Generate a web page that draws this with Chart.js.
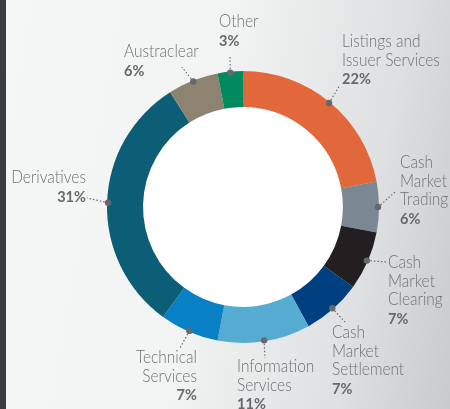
<!DOCTYPE html>
<html>
<head>
<meta charset="utf-8">
<script src="https://cdn.jsdelivr.net/npm/chart.js@4.4.0/dist/chart.umd.min.js"></script>
<style>
  html, body { margin: 0; padding: 0; }
  #wrap {
    position: relative;
    width: 450px;
    height: 409px;
    overflow: hidden;
    background: linear-gradient(100deg, #f5f6f6 0%, #f2f3f3 45%, #dfe0e1 78%, #c8cacc 100%);
  }
  #wrap:before {
    content: '';
    position: absolute;
    left: 0; top: 0; bottom: 0;
    width: 6px;
    background: #3c3d41;
  }
  #chart { position: absolute; left: 0; top: 0; }
</style>
</head>
<body>
<div id="wrap">
  <canvas id="chart" width="450" height="409"></canvas>
</div>
<script>
// data (clockwise from 12 o'clock)
var categories = ['Listings and Issuer Services', 'Cash Market Trading', 'Cash Market Clearing',
  'Cash Market Settlement', 'Information Services', 'Technical Services', 'Derivatives',
  'Austraclear', 'Other'];
var shares = [22, 6, 7, 7, 11, 7, 31, 6, 3];
var colores = ['#e2673a', '#7b8793', '#231f20', '#003f80', '#55abd2', '#0780c6', '#0b5e75', '#8e8371', '#008a5e'];

// label layout: lines, text anchor, alignment, end of the dotted leader
var labelLines = [
  ['Listings and', 'Issuer Services'],
  ['Cash', 'Market', 'Trading'],
  ['Cash', 'Market', 'Clearing'],
  ['Cash', 'Market', 'Settlement'],
  ['Information', 'Services'],
  ['Technical', 'Services'],
  ['Derivatives'],
  ['Austraclear'],
  ['Other']
];
var labelPos = [
  { x: 342, y: 47, align: 'left', ex: 340, ey: 85 },
  { x: 400, y: 168, align: 'left', ex: 395, ey: 192 },
  { x: 388, y: 268, align: 'left', ex: 387, ey: 262 },
  { x: 332, y: 338, align: 'left', ex: 345, ey: 322 },
  { x: 237, y: 372, align: 'left', ex: 265, ey: 358 },
  { x: 197, y: 363, align: 'right', ex: 180, ey: 348 },
  { x: 86, y: 183, align: 'right', ex: 87, ey: 198 },
  { x: 124, y: 57, align: 'left', ex: 182, ey: 67 },
  { x: 219, y: 27, align: 'left', ex: 230, ey: 56 }
];
var lineH = 18.5;
var squeeze = 0.91;
var gris = '#707174';

const whiteHole = {
  id: 'whiteHole',
  beforeDatasetsDraw(chart) {
    var arc = chart.getDatasetMeta(0).data[0];
    var ctx = chart.ctx;
    ctx.save();
    ctx.fillStyle = '#ffffff';
    ctx.beginPath();
    ctx.arc(arc.x, arc.y, arc.innerRadius, 0, Math.PI * 2);
    ctx.fill();
    ctx.restore();
  }
};

function narrowText(ctx, t, x, y) {
  ctx.save();
  ctx.translate(x, y);
  ctx.scale(squeeze, 1);
  ctx.fillText(t, 0, 0);
  ctx.restore();
}

const leaders = {
  id: 'leaders',
  afterDatasetsDraw(chart) {
    var ctx = chart.ctx;
    var arcs = chart.getDatasetMeta(0).data;
    ctx.save();
    arcs.forEach(function (arc, i) {
      var mid = (arc.startAngle + arc.endAngle) / 2;
      var dx = arc.x + Math.cos(mid) * (arc.outerRadius - 1);
      var dy = arc.y + Math.sin(mid) * (arc.outerRadius - 1);
      var p = labelPos[i];

      // dotted line
      ctx.strokeStyle = '#6a6c70';
      ctx.lineWidth = 1.2;
      ctx.setLineDash([1.5, 2]);
      ctx.beginPath();
      ctx.moveTo(dx, dy);
      ctx.lineTo(p.ex, p.ey);
      ctx.stroke();
      ctx.setLineDash([]);

      // dot
      ctx.fillStyle = '#66686c';
      ctx.beginPath();
      ctx.arc(dx, dy, 3.2, 0, Math.PI * 2);
      ctx.fill();

      // text
      ctx.textAlign = p.align;
      ctx.textBaseline = 'alphabetic';
      ctx.fillStyle = gris;
      ctx.font = '300 17px Lato';
      var lines = labelLines[i];
      lines.forEach(function (t, k) {
        narrowText(ctx, t, p.x, p.y + k * lineH);
      });
      ctx.fillStyle = '#67686b';
      ctx.font = 'bold 16px Lato';
      narrowText(ctx, shares[i] + '%', p.x, p.y + lines.length * lineH);
    });
    ctx.restore();
  }
};

new Chart(document.getElementById('chart'), {
  type: 'doughnut',
  data: {
    labels: categories,
    datasets: [{
      data: shares,
      backgroundColor: colores,
      borderWidth: 0
    }]
  },
  options: {
    responsive: false,
    animation: false,
    cutout: '73.5%',
    layout: { padding: { left: 107, right: 71, top: 71, bottom: 66 } },
    plugins: {
      legend: { display: false },
      tooltip: { enabled: false }
    }
  },
  plugins: [whiteHole, leaders]
});
</script>
</body>
</html>
